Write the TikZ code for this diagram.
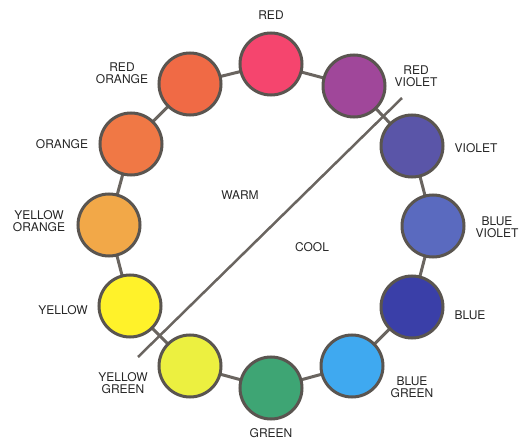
\documentclass[tikz,border=0pt]{standalone}
\usepackage{fontspec}
\setmainfont{TeX Gyre Heros}
\begin{document}
\begin{tikzpicture}[x=1pt,y=-1pt,
  swatch/.style={circle,draw=rimgray,line width=3pt,minimum size=62pt,inner sep=0pt},
  link/.style={draw=linkgray,line width=3pt},
  lbl/.style={align=center,font=\fontsize{12}{12.5}\selectfont,text=black!85,inner sep=0pt},
  divider/.style={draw=linkgray,line width=2.5pt}]
\definecolor{rimgray}{HTML}{5A5550}
\definecolor{linkgray}{HTML}{6A6560}
\definecolor{cRed}{HTML}{F5456E}
\definecolor{cRedViolet}{HTML}{A0479A}
\definecolor{cViolet}{HTML}{5A55A8}
\definecolor{cBlueViolet}{HTML}{5A6ABF}
\definecolor{cBlue}{HTML}{3A3FA8}
\definecolor{cBlueGreen}{HTML}{3FA9F0}
\definecolor{cGreen}{HTML}{3EA574}
\definecolor{cYellowGreen}{HTML}{ECF040}
\definecolor{cYellow}{HTML}{FFF22A}
\definecolor{cYellowOrange}{HTML}{F2A848}
\definecolor{cOrange}{HTML}{F07845}
\definecolor{cRedOrange}{HTML}{F06A45}
\useasboundingbox (0,0) rectangle (520,441);
% coordinates of swatches
\coordinate (pR) at (271,64);
\coordinate (pRV) at (354,86);
\coordinate (pV) at (412,146);
\coordinate (pBV) at (433,226);
\coordinate (pB) at (412,307);
\coordinate (pBG) at (352,366);
\coordinate (pG) at (271,388);
\coordinate (pYG) at (190,366);
\coordinate (pY) at (130,306);
\coordinate (pYO) at (109,225);
\coordinate (pO) at (131,144);
\coordinate (pRO) at (190,84);
% connectors
\draw[link] (pR) -- (pRV) -- (pV) -- (pBV) -- (pB) -- (pBG) -- (pG) -- (pYG) -- (pY) -- (pYO) -- (pO) -- (pRO) -- (pR);
% divider
\coordinate (d1) at (402,98);
\coordinate (d2) at (138,357);
\draw[divider] (d1) -- (d2);
% swatches
\node[swatch,fill=cRed] (red) at (pR) {};
\node[swatch,fill=cRedViolet] (redviolet) at (pRV) {};
\node[swatch,fill=cViolet] (violet) at (pV) {};
\node[swatch,fill=cBlueViolet] (blueviolet) at (pBV) {};
\node[swatch,fill=cBlue] (blue) at (pB) {};
\node[swatch,fill=cBlueGreen] (bluegreen) at (pBG) {};
\node[swatch,fill=cGreen] (green) at (pG) {};
\node[swatch,fill=cYellowGreen] (yellowgreen) at (pYG) {};
\node[swatch,fill=cYellow] (yellow) at (pY) {};
\node[swatch,fill=cYellowOrange] (yelloworange) at (pYO) {};
\node[swatch,fill=cOrange] (orange) at (pO) {};
\node[swatch,fill=cRedOrange] (redorange) at (pRO) {};
% labels
\node[lbl] (tR) at (271,15) {RED};
\node[lbl] (tRV) at (416,76) {RED\\VIOLET};
\node[lbl] (tV) at (476,148) {VIOLET};
\node[lbl] (tBV) at (497,227) {BLUE\\VIOLET};
\node[lbl] (tB) at (470,315) {BLUE};
\node[lbl] (tBG) at (412,387) {BLUE\\GREEN};
\node[lbl] (tG) at (271,433) {GREEN};
\node[lbl] (tYG) at (123,383) {YELLOW\\GREEN};
\node[lbl] (tY) at (63,310) {YELLOW};
\node[lbl] (tYO) at (39,221) {YELLOW\\ORANGE};
\node[lbl] (tO) at (62,144) {ORANGE};
\node[lbl] (tRO) at (122,73) {RED\\ORANGE};
\node[lbl] (tW) at (240,195) {WARM};
\node[lbl] (tC) at (312,247) {COOL};
\end{tikzpicture}
\end{document}
